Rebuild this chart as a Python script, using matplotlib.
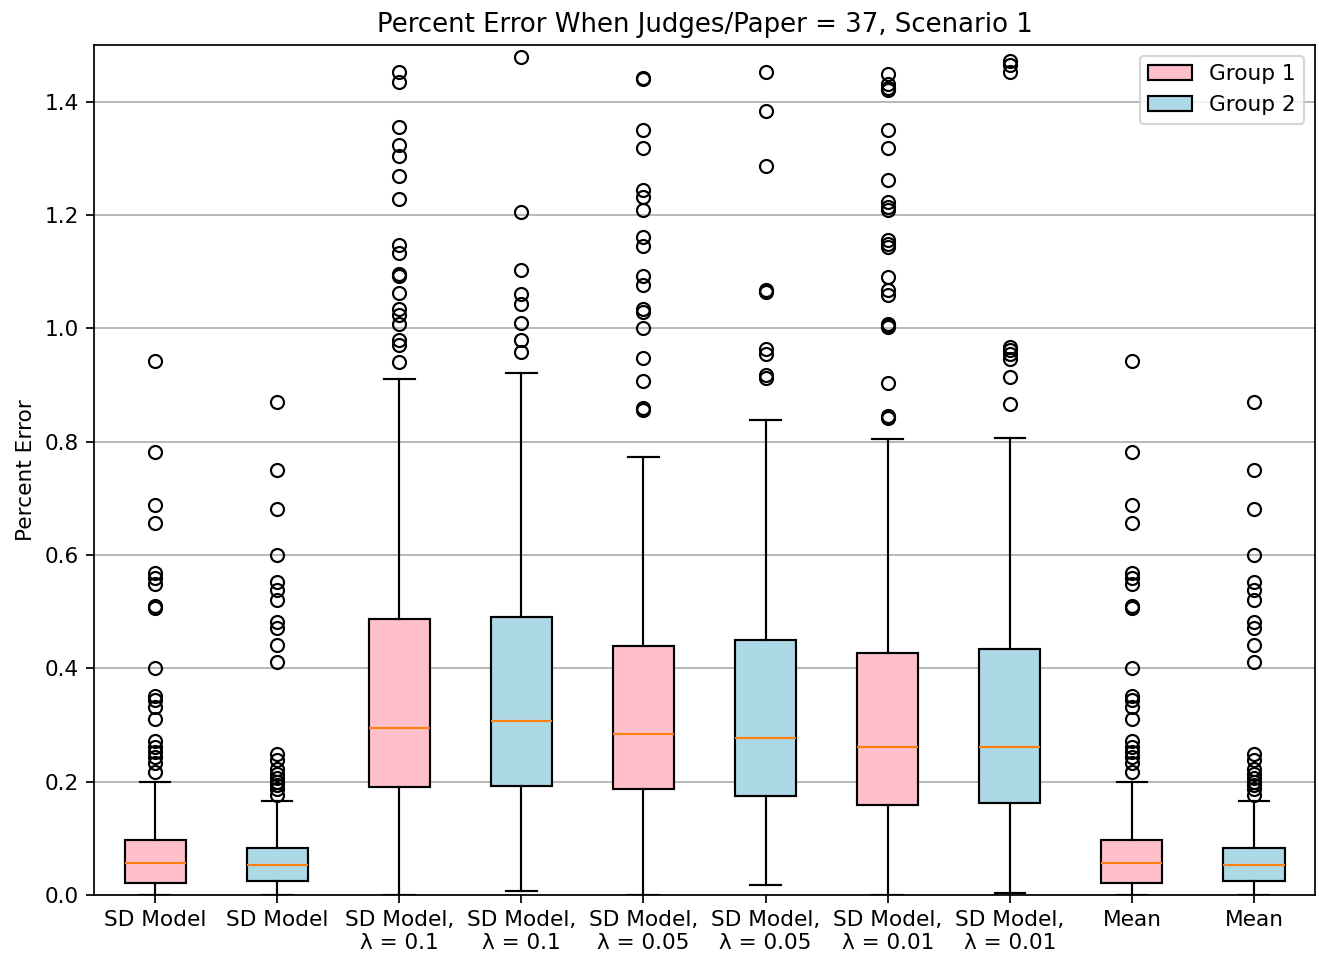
import matplotlib
matplotlib.use("Agg")
import matplotlib.pyplot as plt
from matplotlib.patches import Patch

# tick labels (one per box, left to right)
labels = ["SD Model", "SD Model", "SD Model,\nλ = 0.1", "SD Model,\nλ = 0.1",
          "SD Model,\nλ = 0.05", "SD Model,\nλ = 0.05", "SD Model,\nλ = 0.01",
          "SD Model,\nλ = 0.01", "Mean", "Mean"]
groups = [1, 2, 1, 2, 1, 2, 1, 2, 1, 2]

# box statistics
q1 = [0.022, 0.025, 0.190, 0.192, 0.187, 0.175, 0.159, 0.162, 0.022, 0.025]
med = [0.056, 0.053, 0.294, 0.307, 0.284, 0.277, 0.261, 0.261, 0.056, 0.053]
q3 = [0.097, 0.083, 0.487, 0.490, 0.439, 0.450, 0.427, 0.434, 0.097, 0.083]
whislo = [0.0, 0.0, 0.0, 0.007, 0.0, 0.018, 0.0, 0.004, 0.0, 0.0]
whishi = [0.199, 0.166, 0.911, 0.921, 0.773, 0.839, 0.804, 0.806, 0.199, 0.166]

fliers_sd_g1 = [0.942, 0.781, 0.689, 0.657, 0.569, 0.559, 0.549, 0.510, 0.507,
                0.401, 0.351, 0.344, 0.331, 0.311, 0.272, 0.262, 0.252, 0.243,
                0.233, 0.217]
fliers_sd_g2 = [0.870, 0.750, 0.681, 0.600, 0.552, 0.539, 0.520, 0.481, 0.471,
                0.441, 0.411, 0.249, 0.239, 0.223, 0.213, 0.207, 0.200, 0.194,
                0.187, 0.177]
fliers_l01_g1 = [1.453, 1.434, 1.356, 1.324, 1.304, 1.268, 1.228, 1.147, 1.133,
                 1.095, 1.093, 1.062, 1.034, 1.023, 1.008, 0.980, 0.970, 0.940]
fliers_l01_g2 = [1.478, 1.206, 1.103, 1.061, 1.043, 1.009, 0.979, 0.958]
fliers_l005_g1 = [1.441, 1.440, 1.350, 1.318, 1.244, 1.231, 1.209, 1.161, 1.146,
                  1.092, 1.076, 1.034, 1.029, 1.001, 0.948, 0.907, 0.859, 0.855]
fliers_l005_g2 = [1.453, 1.384, 1.286, 1.067, 1.064, 0.964, 0.955, 0.917, 0.913]
fliers_l001_g1 = [1.449, 1.431, 1.424, 1.420, 1.350, 1.318, 1.262, 1.223, 1.214,
                  1.208, 1.155, 1.148, 1.143, 1.090, 1.068, 1.058, 1.008, 1.005,
                  1.002, 0.904, 0.846, 0.841]
fliers_l001_g2 = [1.471, 1.464, 1.452, 0.967, 0.961, 0.955, 0.946, 0.914, 0.867]
fliers = [fliers_sd_g1, fliers_sd_g2, fliers_l01_g1, fliers_l01_g2,
          fliers_l005_g1, fliers_l005_g2, fliers_l001_g1, fliers_l001_g2,
          fliers_sd_g1, fliers_sd_g2]

colors = {1: "pink", 2: "lightblue"}

stats = []
for i in range(len(labels)):
    stats.append(dict(med=med[i], q1=q1[i], q3=q3[i], whislo=whislo[i],
                      whishi=whishi[i], fliers=fliers[i]))

# higher dpi so fonts and lines come out a bit heavier, like the original
dpi = 156
fig, ax = plt.subplots(figsize=(1319 / dpi, 957 / dpi), dpi=dpi)
fig.subplots_adjust(left=0.0713, right=0.997, top=0.953, bottom=0.0648)

bp = ax.bxp(stats, positions=range(1, len(labels) + 1), patch_artist=True,
            showfliers=True)
for patch, g in zip(bp["boxes"], groups):
    patch.set_facecolor(colors[g])

ax.set_xticks(range(1, len(labels) + 1))
ax.set_xticklabels(labels)
ax.set_ylim(0, 1.5)
ax.set_xlim(0.5, len(labels) + 0.5)
ax.yaxis.grid(True, color="#b0b0b0", linewidth=0.8)
ax.set_axisbelow(True)
ax.set_ylabel("Percent Error")
ax.set_title("Percent Error When Judges/Paper = 37, Scenario 1")

handles = [Patch(facecolor=colors[1], edgecolor="black", label="Group 1"),
           Patch(facecolor=colors[2], edgecolor="black", label="Group 2")]
ax.legend(handles=handles, loc="upper right")

fig.savefig("out.png", dpi=dpi)
